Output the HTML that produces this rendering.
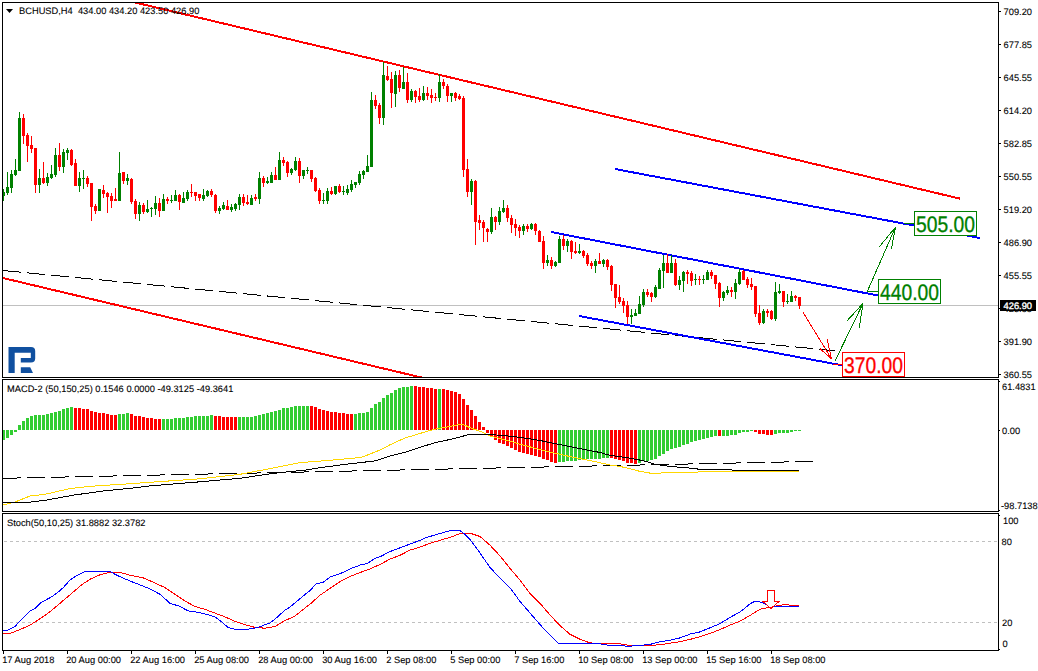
<!DOCTYPE html>
<html><head><meta charset="utf-8"><title>BCHUSD,H4</title><style>
html,body{margin:0;padding:0;background:#fff;}
body{width:1038px;height:671px;overflow:hidden;position:relative;}
svg{position:absolute;left:0;top:0;display:block;}
text{font-family:"Liberation Sans",sans-serif;text-rendering:geometricPrecision;}
</style></head><body>
<svg width="1038" height="671" viewBox="0 0 1038 671">
<rect x="0" y="0" width="1038" height="671" fill="#fff"/>
<defs><clipPath id="cm"><rect x="3" y="3" width="995" height="374"/></clipPath>
<clipPath id="cd"><rect x="3" y="380" width="995" height="131"/></clipPath>
<clipPath id="cs"><rect x="3" y="514" width="995" height="136"/></clipPath></defs>
<g clip-path="url(#cm)" shape-rendering="crispEdges">
<rect x="3" y="305" width="995" height="1" fill="#c0c0c0"/>
</g>
<g clip-path="url(#cm)" shape-rendering="crispEdges">
<line x1="130" y1="1.2794" x2="960" y2="198.637" stroke="#ff0000" stroke-width="2" />
<line x1="-17" y1="273.248" x2="440" y2="381.913" stroke="#ff0000" stroke-width="2" />
<line x1="3" y1="270.5" x2="834.5" y2="350.7" stroke="#000" stroke-width="1" stroke-dasharray="18.084 6.028"/>
<line x1="615" y1="169" x2="980" y2="238" stroke="#0000ff" stroke-width="2" />
<line x1="551" y1="232" x2="878" y2="295.5" stroke="#0000ff" stroke-width="2" />
<line x1="579" y1="316" x2="842" y2="365.3" stroke="#0000ff" stroke-width="2" />
<line x1="867.3" y1="291.5" x2="895.4" y2="227.4" stroke="#008000" stroke-width="1" />
<line x1="895.4" y1="227.4" x2="879.3" y2="246.8" stroke="#008000" stroke-width="1" />
<line x1="895.4" y1="227.4" x2="891.5" y2="248.6" stroke="#008000" stroke-width="1" />
<line x1="835.2" y1="360.6" x2="863" y2="303.4" stroke="#008000" stroke-width="1" />
<line x1="863" y1="303.4" x2="846.9" y2="321" stroke="#008000" stroke-width="1" />
<line x1="863" y1="303.4" x2="859.3" y2="327.8" stroke="#008000" stroke-width="1" />
<line x1="803" y1="312.3" x2="831.4" y2="358.7" stroke="#ff0000" stroke-width="1" />
<line x1="831.4" y1="358.7" x2="819.7" y2="348.4" stroke="#ff0000" stroke-width="1" />
<line x1="831.4" y1="358.7" x2="827.1" y2="338.9" stroke="#ff0000" stroke-width="1" />
<rect x="904" y="223" width="10" height="1" fill="#008000"/>
<rect x="868" y="291" width="10" height="1" fill="#008000"/>
<rect x="833" y="364" width="9" height="1" fill="#ff0000"/>
<rect x="914" y="211" width="62" height="24" fill="#fff" stroke="#008000" stroke-width="1" transform="translate(0.5,0.5)" shape-rendering="crispEdges"/>
<rect x="878" y="279" width="62" height="24" fill="#fff" stroke="#008000" stroke-width="1" transform="translate(0.5,0.5)"/>
<rect x="842" y="352" width="62" height="24" fill="#fff" stroke="#ff0000" stroke-width="1" transform="translate(0.5,0.5)"/>
</g>
<g clip-path="url(#cm)" shape-rendering="crispEdges">
<rect x="3" y="189" width="1" height="12" fill="#008000"/>
<rect x="2" y="192" width="3" height="4" fill="#008000"/>
<rect x="7" y="172" width="1" height="23" fill="#008000"/>
<rect x="6" y="187" width="3" height="6" fill="#008000"/>
<rect x="11" y="170" width="1" height="23" fill="#008000"/>
<rect x="10" y="174" width="3" height="14" fill="#008000"/>
<rect x="15" y="159" width="1" height="17" fill="#008000"/>
<rect x="14" y="170" width="3" height="5" fill="#008000"/>
<rect x="19" y="112" width="1" height="59" fill="#008000"/>
<rect x="18" y="118" width="3" height="53" fill="#008000"/>
<rect x="23" y="114" width="1" height="30" fill="#ff0000"/>
<rect x="22" y="118" width="3" height="18" fill="#ff0000"/>
<rect x="27" y="133" width="1" height="29" fill="#ff0000"/>
<rect x="26" y="135" width="3" height="11" fill="#ff0000"/>
<rect x="31" y="136" width="1" height="17" fill="#ff0000"/>
<rect x="30" y="145" width="3" height="4" fill="#ff0000"/>
<rect x="35" y="148" width="1" height="45" fill="#ff0000"/>
<rect x="34" y="148" width="3" height="37" fill="#ff0000"/>
<rect x="39" y="169" width="1" height="24" fill="#008000"/>
<rect x="38" y="178" width="3" height="7" fill="#008000"/>
<rect x="43" y="162" width="1" height="22" fill="#ff0000"/>
<rect x="42" y="178" width="3" height="5" fill="#ff0000"/>
<rect x="47" y="173" width="1" height="13" fill="#008000"/>
<rect x="46" y="177" width="3" height="6" fill="#008000"/>
<rect x="51" y="165" width="1" height="14" fill="#008000"/>
<rect x="50" y="174" width="3" height="4" fill="#008000"/>
<rect x="55" y="148" width="1" height="29" fill="#008000"/>
<rect x="54" y="155" width="3" height="20" fill="#008000"/>
<rect x="59" y="143" width="1" height="28" fill="#ff0000"/>
<rect x="58" y="155" width="3" height="12" fill="#ff0000"/>
<rect x="63" y="149" width="1" height="24" fill="#008000"/>
<rect x="62" y="152" width="3" height="15" fill="#008000"/>
<rect x="67" y="148" width="1" height="12" fill="#008000"/>
<rect x="66" y="150" width="3" height="3" fill="#008000"/>
<rect x="71" y="149" width="1" height="17" fill="#ff0000"/>
<rect x="70" y="150" width="3" height="15" fill="#ff0000"/>
<rect x="75" y="159" width="1" height="27" fill="#ff0000"/>
<rect x="74" y="163" width="3" height="23" fill="#ff0000"/>
<rect x="79" y="172" width="1" height="20" fill="#008000"/>
<rect x="78" y="178" width="3" height="8" fill="#008000"/>
<rect x="83" y="170" width="1" height="19" fill="#008000"/>
<rect x="82" y="178" width="3" height="1" fill="#008000"/>
<rect x="87" y="176" width="1" height="11" fill="#ff0000"/>
<rect x="86" y="178" width="3" height="6" fill="#ff0000"/>
<rect x="91" y="183" width="1" height="38" fill="#ff0000"/>
<rect x="90" y="183" width="3" height="24" fill="#ff0000"/>
<rect x="95" y="204" width="1" height="10" fill="#ff0000"/>
<rect x="94" y="206" width="3" height="5" fill="#ff0000"/>
<rect x="99" y="189" width="1" height="22" fill="#008000"/>
<rect x="98" y="189" width="3" height="22" fill="#008000"/>
<rect x="103" y="185" width="1" height="13" fill="#ff0000"/>
<rect x="102" y="190" width="3" height="4" fill="#ff0000"/>
<rect x="107" y="192" width="1" height="21" fill="#ff0000"/>
<rect x="106" y="193" width="3" height="4" fill="#ff0000"/>
<rect x="111" y="193" width="1" height="15" fill="#ff0000"/>
<rect x="110" y="196" width="3" height="5" fill="#ff0000"/>
<rect x="115" y="188" width="1" height="13" fill="#ff0000"/>
<rect x="114" y="199" width="3" height="2" fill="#ff0000"/>
<rect x="119" y="152" width="1" height="49" fill="#008000"/>
<rect x="118" y="173" width="3" height="28" fill="#008000"/>
<rect x="123" y="172" width="1" height="12" fill="#ff0000"/>
<rect x="122" y="172" width="3" height="9" fill="#ff0000"/>
<rect x="127" y="174" width="1" height="11" fill="#008000"/>
<rect x="126" y="178" width="3" height="3" fill="#008000"/>
<rect x="131" y="178" width="1" height="26" fill="#ff0000"/>
<rect x="130" y="179" width="3" height="23" fill="#ff0000"/>
<rect x="135" y="199" width="1" height="20" fill="#ff0000"/>
<rect x="134" y="201" width="3" height="13" fill="#ff0000"/>
<rect x="139" y="202" width="1" height="19" fill="#008000"/>
<rect x="138" y="205" width="3" height="9" fill="#008000"/>
<rect x="143" y="203" width="1" height="11" fill="#ff0000"/>
<rect x="142" y="205" width="3" height="7" fill="#ff0000"/>
<rect x="147" y="200" width="1" height="13" fill="#008000"/>
<rect x="146" y="209" width="3" height="3" fill="#008000"/>
<rect x="151" y="207" width="1" height="10" fill="#008000"/>
<rect x="150" y="208" width="3" height="1" fill="#008000"/>
<rect x="155" y="196" width="1" height="19" fill="#008000"/>
<rect x="154" y="203" width="3" height="6" fill="#008000"/>
<rect x="159" y="198" width="1" height="19" fill="#ff0000"/>
<rect x="158" y="203" width="3" height="8" fill="#ff0000"/>
<rect x="163" y="194" width="1" height="17" fill="#008000"/>
<rect x="162" y="199" width="3" height="12" fill="#008000"/>
<rect x="167" y="197" width="1" height="7" fill="#ff0000"/>
<rect x="166" y="199" width="3" height="2" fill="#ff0000"/>
<rect x="171" y="195" width="1" height="8" fill="#008000"/>
<rect x="170" y="200" width="3" height="1" fill="#008000"/>
<rect x="175" y="190" width="1" height="11" fill="#008000"/>
<rect x="174" y="195" width="3" height="6" fill="#008000"/>
<rect x="179" y="194" width="1" height="16" fill="#ff0000"/>
<rect x="178" y="195" width="3" height="7" fill="#ff0000"/>
<rect x="183" y="192" width="1" height="11" fill="#008000"/>
<rect x="182" y="198" width="3" height="5" fill="#008000"/>
<rect x="187" y="190" width="1" height="11" fill="#008000"/>
<rect x="186" y="192" width="3" height="7" fill="#008000"/>
<rect x="191" y="184" width="1" height="13" fill="#ff0000"/>
<rect x="190" y="192" width="3" height="1" fill="#ff0000"/>
<rect x="195" y="192" width="1" height="9" fill="#ff0000"/>
<rect x="194" y="192" width="3" height="4" fill="#ff0000"/>
<rect x="199" y="194" width="1" height="7" fill="#ff0000"/>
<rect x="198" y="194" width="3" height="4" fill="#ff0000"/>
<rect x="203" y="189" width="1" height="12" fill="#008000"/>
<rect x="202" y="195" width="3" height="4" fill="#008000"/>
<rect x="207" y="190" width="1" height="7" fill="#008000"/>
<rect x="206" y="191" width="3" height="5" fill="#008000"/>
<rect x="211" y="189" width="1" height="8" fill="#ff0000"/>
<rect x="210" y="191" width="3" height="4" fill="#ff0000"/>
<rect x="215" y="194" width="1" height="19" fill="#ff0000"/>
<rect x="214" y="195" width="3" height="16" fill="#ff0000"/>
<rect x="219" y="206" width="1" height="8" fill="#008000"/>
<rect x="218" y="208" width="3" height="3" fill="#008000"/>
<rect x="223" y="202" width="1" height="8" fill="#008000"/>
<rect x="222" y="205" width="3" height="4" fill="#008000"/>
<rect x="227" y="200" width="1" height="10" fill="#ff0000"/>
<rect x="226" y="206" width="3" height="4" fill="#ff0000"/>
<rect x="231" y="204" width="1" height="8" fill="#008000"/>
<rect x="230" y="207" width="3" height="3" fill="#008000"/>
<rect x="235" y="203" width="1" height="8" fill="#008000"/>
<rect x="234" y="204" width="3" height="5" fill="#008000"/>
<rect x="239" y="194" width="1" height="16" fill="#008000"/>
<rect x="238" y="197" width="3" height="8" fill="#008000"/>
<rect x="243" y="194" width="1" height="12" fill="#ff0000"/>
<rect x="242" y="197" width="3" height="6" fill="#ff0000"/>
<rect x="247" y="195" width="1" height="10" fill="#ff0000"/>
<rect x="246" y="202" width="3" height="2" fill="#ff0000"/>
<rect x="251" y="195" width="1" height="10" fill="#008000"/>
<rect x="250" y="198" width="3" height="7" fill="#008000"/>
<rect x="255" y="194" width="1" height="7" fill="#ff0000"/>
<rect x="254" y="197" width="3" height="2" fill="#ff0000"/>
<rect x="259" y="172" width="1" height="32" fill="#008000"/>
<rect x="258" y="178" width="3" height="21" fill="#008000"/>
<rect x="263" y="176" width="1" height="11" fill="#ff0000"/>
<rect x="262" y="178" width="3" height="5" fill="#ff0000"/>
<rect x="267" y="177" width="1" height="7" fill="#008000"/>
<rect x="266" y="181" width="3" height="2" fill="#008000"/>
<rect x="271" y="172" width="1" height="11" fill="#008000"/>
<rect x="270" y="175" width="3" height="8" fill="#008000"/>
<rect x="275" y="167" width="1" height="13" fill="#ff0000"/>
<rect x="274" y="175" width="3" height="5" fill="#ff0000"/>
<rect x="279" y="152" width="1" height="28" fill="#008000"/>
<rect x="278" y="160" width="3" height="20" fill="#008000"/>
<rect x="283" y="157" width="1" height="9" fill="#ff0000"/>
<rect x="282" y="160" width="3" height="3" fill="#ff0000"/>
<rect x="287" y="161" width="1" height="16" fill="#ff0000"/>
<rect x="286" y="162" width="3" height="11" fill="#ff0000"/>
<rect x="291" y="168" width="1" height="7" fill="#008000"/>
<rect x="290" y="169" width="3" height="4" fill="#008000"/>
<rect x="295" y="157" width="1" height="14" fill="#008000"/>
<rect x="294" y="161" width="3" height="9" fill="#008000"/>
<rect x="299" y="158" width="1" height="25" fill="#ff0000"/>
<rect x="298" y="161" width="3" height="15" fill="#ff0000"/>
<rect x="303" y="170" width="1" height="9" fill="#008000"/>
<rect x="302" y="170" width="3" height="6" fill="#008000"/>
<rect x="307" y="167" width="1" height="7" fill="#008000"/>
<rect x="306" y="170" width="3" height="1" fill="#008000"/>
<rect x="311" y="170" width="1" height="12" fill="#ff0000"/>
<rect x="310" y="170" width="3" height="9" fill="#ff0000"/>
<rect x="315" y="177" width="1" height="15" fill="#ff0000"/>
<rect x="314" y="178" width="3" height="13" fill="#ff0000"/>
<rect x="319" y="188" width="1" height="16" fill="#ff0000"/>
<rect x="318" y="190" width="3" height="11" fill="#ff0000"/>
<rect x="323" y="193" width="1" height="11" fill="#008000"/>
<rect x="322" y="200" width="3" height="1" fill="#008000"/>
<rect x="327" y="188" width="1" height="16" fill="#008000"/>
<rect x="326" y="191" width="3" height="10" fill="#008000"/>
<rect x="331" y="187" width="1" height="8" fill="#ff0000"/>
<rect x="330" y="191" width="3" height="3" fill="#ff0000"/>
<rect x="335" y="186" width="1" height="9" fill="#008000"/>
<rect x="334" y="186" width="3" height="8" fill="#008000"/>
<rect x="339" y="184" width="1" height="9" fill="#ff0000"/>
<rect x="338" y="186" width="3" height="6" fill="#ff0000"/>
<rect x="343" y="186" width="1" height="9" fill="#008000"/>
<rect x="342" y="191" width="3" height="1" fill="#008000"/>
<rect x="347" y="185" width="1" height="10" fill="#008000"/>
<rect x="346" y="189" width="3" height="4" fill="#008000"/>
<rect x="351" y="180" width="1" height="12" fill="#008000"/>
<rect x="350" y="184" width="3" height="6" fill="#008000"/>
<rect x="355" y="182" width="1" height="6" fill="#008000"/>
<rect x="354" y="182" width="3" height="3" fill="#008000"/>
<rect x="359" y="171" width="1" height="14" fill="#008000"/>
<rect x="358" y="174" width="3" height="9" fill="#008000"/>
<rect x="363" y="170" width="1" height="9" fill="#008000"/>
<rect x="362" y="171" width="3" height="4" fill="#008000"/>
<rect x="367" y="155" width="1" height="17" fill="#008000"/>
<rect x="366" y="166" width="3" height="6" fill="#008000"/>
<rect x="371" y="92" width="1" height="75" fill="#008000"/>
<rect x="370" y="100" width="3" height="67" fill="#008000"/>
<rect x="375" y="95" width="1" height="14" fill="#ff0000"/>
<rect x="374" y="100" width="3" height="6" fill="#ff0000"/>
<rect x="379" y="103" width="1" height="21" fill="#ff0000"/>
<rect x="378" y="105" width="3" height="13" fill="#ff0000"/>
<rect x="383" y="62" width="1" height="63" fill="#008000"/>
<rect x="382" y="75" width="3" height="43" fill="#008000"/>
<rect x="387" y="66" width="1" height="15" fill="#ff0000"/>
<rect x="386" y="76" width="3" height="4" fill="#ff0000"/>
<rect x="391" y="72" width="1" height="36" fill="#ff0000"/>
<rect x="390" y="79" width="3" height="14" fill="#ff0000"/>
<rect x="395" y="71" width="1" height="36" fill="#008000"/>
<rect x="394" y="75" width="3" height="19" fill="#008000"/>
<rect x="399" y="70" width="1" height="22" fill="#ff0000"/>
<rect x="398" y="75" width="3" height="13" fill="#ff0000"/>
<rect x="403" y="67" width="1" height="22" fill="#008000"/>
<rect x="402" y="82" width="3" height="7" fill="#008000"/>
<rect x="407" y="73" width="1" height="30" fill="#ff0000"/>
<rect x="406" y="82" width="3" height="18" fill="#ff0000"/>
<rect x="411" y="89" width="1" height="13" fill="#008000"/>
<rect x="410" y="91" width="3" height="9" fill="#008000"/>
<rect x="415" y="90" width="1" height="13" fill="#ff0000"/>
<rect x="414" y="91" width="3" height="6" fill="#ff0000"/>
<rect x="419" y="88" width="1" height="14" fill="#ff0000"/>
<rect x="418" y="96" width="3" height="4" fill="#ff0000"/>
<rect x="423" y="86" width="1" height="15" fill="#008000"/>
<rect x="422" y="93" width="3" height="7" fill="#008000"/>
<rect x="427" y="87" width="1" height="13" fill="#ff0000"/>
<rect x="426" y="93" width="3" height="3" fill="#ff0000"/>
<rect x="431" y="89" width="1" height="14" fill="#ff0000"/>
<rect x="430" y="95" width="3" height="3" fill="#ff0000"/>
<rect x="435" y="93" width="1" height="8" fill="#ff0000"/>
<rect x="434" y="97" width="3" height="1" fill="#ff0000"/>
<rect x="439" y="74" width="1" height="28" fill="#008000"/>
<rect x="438" y="82" width="3" height="16" fill="#008000"/>
<rect x="443" y="79" width="1" height="10" fill="#ff0000"/>
<rect x="442" y="82" width="3" height="4" fill="#ff0000"/>
<rect x="447" y="84" width="1" height="18" fill="#ff0000"/>
<rect x="446" y="86" width="3" height="10" fill="#ff0000"/>
<rect x="451" y="93" width="1" height="9" fill="#008000"/>
<rect x="450" y="93" width="3" height="3" fill="#008000"/>
<rect x="455" y="92" width="1" height="9" fill="#ff0000"/>
<rect x="454" y="93" width="3" height="5" fill="#ff0000"/>
<rect x="459" y="94" width="1" height="6" fill="#ff0000"/>
<rect x="458" y="96" width="3" height="3" fill="#ff0000"/>
<rect x="463" y="96" width="1" height="81" fill="#ff0000"/>
<rect x="462" y="98" width="3" height="72" fill="#ff0000"/>
<rect x="467" y="159" width="1" height="38" fill="#ff0000"/>
<rect x="466" y="169" width="3" height="23" fill="#ff0000"/>
<rect x="471" y="179" width="1" height="26" fill="#008000"/>
<rect x="470" y="181" width="3" height="11" fill="#008000"/>
<rect x="475" y="180" width="1" height="65" fill="#ff0000"/>
<rect x="474" y="181" width="3" height="41" fill="#ff0000"/>
<rect x="479" y="215" width="1" height="15" fill="#ff0000"/>
<rect x="478" y="220" width="3" height="3" fill="#ff0000"/>
<rect x="483" y="220" width="1" height="22" fill="#ff0000"/>
<rect x="482" y="222" width="3" height="6" fill="#ff0000"/>
<rect x="487" y="228" width="1" height="14" fill="#ff0000"/>
<rect x="486" y="229" width="3" height="3" fill="#ff0000"/>
<rect x="491" y="208" width="1" height="26" fill="#008000"/>
<rect x="490" y="217" width="3" height="15" fill="#008000"/>
<rect x="495" y="216" width="1" height="14" fill="#ff0000"/>
<rect x="494" y="217" width="3" height="5" fill="#ff0000"/>
<rect x="499" y="207" width="1" height="18" fill="#008000"/>
<rect x="498" y="211" width="3" height="11" fill="#008000"/>
<rect x="503" y="200" width="1" height="13" fill="#008000"/>
<rect x="502" y="208" width="3" height="4" fill="#008000"/>
<rect x="507" y="205" width="1" height="17" fill="#ff0000"/>
<rect x="506" y="208" width="3" height="10" fill="#ff0000"/>
<rect x="511" y="215" width="1" height="18" fill="#ff0000"/>
<rect x="510" y="218" width="3" height="7" fill="#ff0000"/>
<rect x="515" y="219" width="1" height="17" fill="#ff0000"/>
<rect x="514" y="224" width="3" height="4" fill="#ff0000"/>
<rect x="519" y="225" width="1" height="13" fill="#ff0000"/>
<rect x="518" y="227" width="3" height="4" fill="#ff0000"/>
<rect x="523" y="224" width="1" height="11" fill="#008000"/>
<rect x="522" y="226" width="3" height="5" fill="#008000"/>
<rect x="527" y="224" width="1" height="8" fill="#ff0000"/>
<rect x="526" y="226" width="3" height="3" fill="#ff0000"/>
<rect x="531" y="223" width="1" height="7" fill="#008000"/>
<rect x="530" y="224" width="3" height="5" fill="#008000"/>
<rect x="535" y="223" width="1" height="12" fill="#ff0000"/>
<rect x="534" y="224" width="3" height="7" fill="#ff0000"/>
<rect x="539" y="230" width="1" height="12" fill="#ff0000"/>
<rect x="538" y="231" width="3" height="11" fill="#ff0000"/>
<rect x="543" y="236" width="1" height="33" fill="#ff0000"/>
<rect x="542" y="241" width="3" height="22" fill="#ff0000"/>
<rect x="547" y="255" width="1" height="11" fill="#008000"/>
<rect x="546" y="260" width="3" height="3" fill="#008000"/>
<rect x="551" y="257" width="1" height="12" fill="#ff0000"/>
<rect x="550" y="260" width="3" height="6" fill="#ff0000"/>
<rect x="555" y="261" width="1" height="6" fill="#008000"/>
<rect x="554" y="262" width="3" height="4" fill="#008000"/>
<rect x="559" y="236" width="1" height="27" fill="#008000"/>
<rect x="558" y="239" width="3" height="24" fill="#008000"/>
<rect x="563" y="235" width="1" height="15" fill="#ff0000"/>
<rect x="562" y="239" width="3" height="7" fill="#ff0000"/>
<rect x="567" y="239" width="1" height="13" fill="#008000"/>
<rect x="566" y="241" width="3" height="5" fill="#008000"/>
<rect x="571" y="240" width="1" height="19" fill="#ff0000"/>
<rect x="570" y="241" width="3" height="11" fill="#ff0000"/>
<rect x="575" y="242" width="1" height="12" fill="#ff0000"/>
<rect x="574" y="251" width="3" height="2" fill="#ff0000"/>
<rect x="579" y="244" width="1" height="10" fill="#008000"/>
<rect x="578" y="251" width="3" height="2" fill="#008000"/>
<rect x="583" y="250" width="1" height="8" fill="#ff0000"/>
<rect x="582" y="251" width="3" height="5" fill="#ff0000"/>
<rect x="587" y="253" width="1" height="13" fill="#ff0000"/>
<rect x="586" y="255" width="3" height="9" fill="#ff0000"/>
<rect x="591" y="261" width="1" height="8" fill="#ff0000"/>
<rect x="590" y="263" width="3" height="3" fill="#ff0000"/>
<rect x="595" y="259" width="1" height="14" fill="#008000"/>
<rect x="594" y="261" width="3" height="5" fill="#008000"/>
<rect x="599" y="253" width="1" height="11" fill="#ff0000"/>
<rect x="598" y="261" width="3" height="3" fill="#ff0000"/>
<rect x="603" y="259" width="1" height="8" fill="#008000"/>
<rect x="602" y="260" width="3" height="4" fill="#008000"/>
<rect x="607" y="259" width="1" height="11" fill="#ff0000"/>
<rect x="606" y="260" width="3" height="7" fill="#ff0000"/>
<rect x="611" y="265" width="1" height="26" fill="#ff0000"/>
<rect x="610" y="266" width="3" height="19" fill="#ff0000"/>
<rect x="615" y="284" width="1" height="24" fill="#ff0000"/>
<rect x="614" y="284" width="3" height="14" fill="#ff0000"/>
<rect x="619" y="285" width="1" height="19" fill="#ff0000"/>
<rect x="618" y="297" width="3" height="5" fill="#ff0000"/>
<rect x="623" y="298" width="1" height="15" fill="#ff0000"/>
<rect x="622" y="301" width="3" height="5" fill="#ff0000"/>
<rect x="627" y="301" width="1" height="23" fill="#ff0000"/>
<rect x="626" y="305" width="3" height="12" fill="#ff0000"/>
<rect x="631" y="309" width="1" height="15" fill="#008000"/>
<rect x="630" y="315" width="3" height="2" fill="#008000"/>
<rect x="635" y="309" width="1" height="7" fill="#008000"/>
<rect x="634" y="313" width="3" height="3" fill="#008000"/>
<rect x="639" y="296" width="1" height="18" fill="#008000"/>
<rect x="638" y="304" width="3" height="10" fill="#008000"/>
<rect x="643" y="289" width="1" height="18" fill="#008000"/>
<rect x="642" y="292" width="3" height="13" fill="#008000"/>
<rect x="647" y="289" width="1" height="8" fill="#ff0000"/>
<rect x="646" y="292" width="3" height="3" fill="#ff0000"/>
<rect x="651" y="292" width="1" height="10" fill="#ff0000"/>
<rect x="650" y="293" width="3" height="4" fill="#ff0000"/>
<rect x="655" y="285" width="1" height="13" fill="#008000"/>
<rect x="654" y="287" width="3" height="10" fill="#008000"/>
<rect x="659" y="268" width="1" height="21" fill="#008000"/>
<rect x="658" y="270" width="3" height="19" fill="#008000"/>
<rect x="663" y="255" width="1" height="33" fill="#008000"/>
<rect x="662" y="263" width="3" height="8" fill="#008000"/>
<rect x="667" y="254" width="1" height="19" fill="#ff0000"/>
<rect x="666" y="263" width="3" height="10" fill="#ff0000"/>
<rect x="671" y="255" width="1" height="18" fill="#008000"/>
<rect x="670" y="263" width="3" height="10" fill="#008000"/>
<rect x="675" y="259" width="1" height="27" fill="#ff0000"/>
<rect x="674" y="263" width="3" height="22" fill="#ff0000"/>
<rect x="679" y="276" width="1" height="14" fill="#008000"/>
<rect x="678" y="280" width="3" height="5" fill="#008000"/>
<rect x="683" y="271" width="1" height="21" fill="#008000"/>
<rect x="682" y="272" width="3" height="9" fill="#008000"/>
<rect x="687" y="270" width="1" height="14" fill="#ff0000"/>
<rect x="686" y="272" width="3" height="2" fill="#ff0000"/>
<rect x="691" y="271" width="1" height="15" fill="#ff0000"/>
<rect x="690" y="273" width="3" height="8" fill="#ff0000"/>
<rect x="695" y="274" width="1" height="11" fill="#008000"/>
<rect x="694" y="279" width="3" height="1" fill="#008000"/>
<rect x="699" y="276" width="1" height="9" fill="#ff0000"/>
<rect x="698" y="279" width="3" height="1" fill="#ff0000"/>
<rect x="703" y="275" width="1" height="9" fill="#008000"/>
<rect x="702" y="279" width="3" height="1" fill="#008000"/>
<rect x="707" y="270" width="1" height="10" fill="#008000"/>
<rect x="706" y="272" width="3" height="8" fill="#008000"/>
<rect x="711" y="270" width="1" height="9" fill="#ff0000"/>
<rect x="710" y="272" width="3" height="4" fill="#ff0000"/>
<rect x="715" y="275" width="1" height="14" fill="#ff0000"/>
<rect x="714" y="275" width="3" height="9" fill="#ff0000"/>
<rect x="719" y="282" width="1" height="25" fill="#ff0000"/>
<rect x="718" y="283" width="3" height="15" fill="#ff0000"/>
<rect x="723" y="291" width="1" height="10" fill="#008000"/>
<rect x="722" y="292" width="3" height="6" fill="#008000"/>
<rect x="727" y="286" width="1" height="9" fill="#008000"/>
<rect x="726" y="290" width="3" height="3" fill="#008000"/>
<rect x="731" y="287" width="1" height="10" fill="#ff0000"/>
<rect x="730" y="290" width="3" height="2" fill="#ff0000"/>
<rect x="735" y="279" width="1" height="20" fill="#008000"/>
<rect x="734" y="283" width="3" height="9" fill="#008000"/>
<rect x="739" y="269" width="1" height="16" fill="#008000"/>
<rect x="738" y="272" width="3" height="12" fill="#008000"/>
<rect x="743" y="270" width="1" height="10" fill="#ff0000"/>
<rect x="742" y="271" width="3" height="9" fill="#ff0000"/>
<rect x="747" y="277" width="1" height="11" fill="#ff0000"/>
<rect x="746" y="279" width="3" height="6" fill="#ff0000"/>
<rect x="751" y="278" width="1" height="12" fill="#ff0000"/>
<rect x="750" y="284" width="3" height="3" fill="#ff0000"/>
<rect x="755" y="286" width="1" height="31" fill="#ff0000"/>
<rect x="754" y="286" width="3" height="28" fill="#ff0000"/>
<rect x="759" y="305" width="1" height="20" fill="#ff0000"/>
<rect x="758" y="313" width="3" height="10" fill="#ff0000"/>
<rect x="763" y="309" width="1" height="15" fill="#008000"/>
<rect x="762" y="311" width="3" height="12" fill="#008000"/>
<rect x="767" y="309" width="1" height="8" fill="#ff0000"/>
<rect x="766" y="311" width="3" height="2" fill="#ff0000"/>
<rect x="771" y="310" width="1" height="10" fill="#ff0000"/>
<rect x="770" y="311" width="3" height="8" fill="#ff0000"/>
<rect x="775" y="282" width="1" height="39" fill="#008000"/>
<rect x="774" y="292" width="3" height="27" fill="#008000"/>
<rect x="779" y="284" width="1" height="10" fill="#008000"/>
<rect x="778" y="291" width="3" height="2" fill="#008000"/>
<rect x="783" y="291" width="1" height="16" fill="#ff0000"/>
<rect x="782" y="291" width="3" height="11" fill="#ff0000"/>
<rect x="787" y="294" width="1" height="10" fill="#008000"/>
<rect x="786" y="301" width="3" height="1" fill="#008000"/>
<rect x="791" y="291" width="1" height="11" fill="#008000"/>
<rect x="790" y="296" width="3" height="6" fill="#008000"/>
<rect x="795" y="295" width="1" height="6" fill="#ff0000"/>
<rect x="794" y="296" width="3" height="2" fill="#ff0000"/>
<rect x="799" y="297" width="1" height="12" fill="#ff0000"/>
<rect x="798" y="297" width="3" height="9" fill="#ff0000"/>
</g>
<text x="916" y="232" font-size="22.5" fill="#008000" text-anchor="start" stroke="#008000" stroke-width="0.3" textLength="59" lengthAdjust="spacingAndGlyphs">505.00</text>
<text x="880" y="300" font-size="22.5" fill="#008000" text-anchor="start" stroke="#008000" stroke-width="0.3" textLength="59" lengthAdjust="spacingAndGlyphs">440.00</text>
<text x="844" y="373" font-size="22.5" fill="#ff0000" text-anchor="start" stroke="#ff0000" stroke-width="0.3" textLength="59" lengthAdjust="spacingAndGlyphs">370.00</text>
<g fill="#1050a0">
<path d="M8.5,347 H31 Q35.2,347 35.2,351 V358.5 Q35.2,362.5 31,362.5 H20.8 V358 H30.8 V352.8 H14.7 V373 H8.5 Z"/>
<path d="M20.8,367.2 H30.2 L33,373 H20.8 Z"/>
</g>
<path d="M6,9 H13 L9.5,13 Z" fill="#000"/>
<text transform="translate(19,14) scale(1,1.0)" x="0" y="0" font-size="9.3" fill="#000" text-anchor="start" stroke="#000" stroke-width="0.1">BCHUSD,H4&#160;&#160;434.00 434.20 423.50 426.90</text>
<g clip-path="url(#cd)" shape-rendering="crispEdges">
<rect x="2" y="430" width="3" height="10" fill="#32cd32"/>
<rect x="6" y="430" width="3" height="8" fill="#32cd32"/>
<rect x="10" y="430" width="3" height="5" fill="#32cd32"/>
<rect x="14" y="430" width="3" height="2" fill="#32cd32"/>
<rect x="18" y="425" width="3" height="5" fill="#32cd32"/>
<rect x="22" y="421" width="3" height="9" fill="#32cd32"/>
<rect x="26" y="418" width="3" height="12" fill="#32cd32"/>
<rect x="30" y="416" width="3" height="14" fill="#32cd32"/>
<rect x="34" y="415" width="3" height="15" fill="#32cd32"/>
<rect x="38" y="415" width="3" height="15" fill="#32cd32"/>
<rect x="42" y="415" width="3" height="15" fill="#32cd32"/>
<rect x="46" y="414" width="3" height="16" fill="#32cd32"/>
<rect x="50" y="413" width="3" height="17" fill="#32cd32"/>
<rect x="54" y="412" width="3" height="18" fill="#32cd32"/>
<rect x="58" y="411" width="3" height="19" fill="#32cd32"/>
<rect x="62" y="409" width="3" height="21" fill="#32cd32"/>
<rect x="66" y="408" width="3" height="22" fill="#32cd32"/>
<rect x="70" y="407" width="3" height="23" fill="#32cd32"/>
<rect x="74" y="408" width="3" height="22" fill="#ff0000"/>
<rect x="78" y="408" width="3" height="22" fill="#ff0000"/>
<rect x="82" y="409" width="3" height="21" fill="#ff0000"/>
<rect x="86" y="409" width="3" height="21" fill="#ff0000"/>
<rect x="90" y="411" width="3" height="19" fill="#ff0000"/>
<rect x="94" y="412" width="3" height="18" fill="#ff0000"/>
<rect x="98" y="413" width="3" height="17" fill="#ff0000"/>
<rect x="102" y="413" width="3" height="17" fill="#ff0000"/>
<rect x="106" y="414" width="3" height="16" fill="#ff0000"/>
<rect x="110" y="415" width="3" height="15" fill="#ff0000"/>
<rect x="114" y="415" width="3" height="15" fill="#ff0000"/>
<rect x="118" y="414" width="3" height="16" fill="#32cd32"/>
<rect x="122" y="414" width="3" height="16" fill="#32cd32"/>
<rect x="126" y="413" width="3" height="17" fill="#32cd32"/>
<rect x="130" y="414" width="3" height="16" fill="#ff0000"/>
<rect x="134" y="416" width="3" height="14" fill="#ff0000"/>
<rect x="138" y="416" width="3" height="14" fill="#ff0000"/>
<rect x="142" y="417" width="3" height="13" fill="#ff0000"/>
<rect x="146" y="418" width="3" height="12" fill="#ff0000"/>
<rect x="150" y="418" width="3" height="12" fill="#ff0000"/>
<rect x="154" y="419" width="3" height="11" fill="#ff0000"/>
<rect x="158" y="419" width="3" height="11" fill="#ff0000"/>
<rect x="162" y="419" width="3" height="11" fill="#32cd32"/>
<rect x="166" y="419" width="3" height="11" fill="#32cd32"/>
<rect x="170" y="419" width="3" height="11" fill="#32cd32"/>
<rect x="174" y="418" width="3" height="12" fill="#32cd32"/>
<rect x="178" y="418" width="3" height="12" fill="#32cd32"/>
<rect x="182" y="418" width="3" height="12" fill="#32cd32"/>
<rect x="186" y="417" width="3" height="13" fill="#32cd32"/>
<rect x="190" y="417" width="3" height="13" fill="#32cd32"/>
<rect x="194" y="416" width="3" height="14" fill="#32cd32"/>
<rect x="198" y="416" width="3" height="14" fill="#32cd32"/>
<rect x="202" y="416" width="3" height="14" fill="#32cd32"/>
<rect x="206" y="416" width="3" height="14" fill="#32cd32"/>
<rect x="210" y="415" width="3" height="15" fill="#32cd32"/>
<rect x="214" y="416" width="3" height="14" fill="#ff0000"/>
<rect x="218" y="416" width="3" height="14" fill="#ff0000"/>
<rect x="222" y="417" width="3" height="13" fill="#ff0000"/>
<rect x="226" y="417" width="3" height="13" fill="#ff0000"/>
<rect x="230" y="417" width="3" height="13" fill="#ff0000"/>
<rect x="234" y="417" width="3" height="13" fill="#ff0000"/>
<rect x="238" y="417" width="3" height="13" fill="#32cd32"/>
<rect x="242" y="417" width="3" height="13" fill="#32cd32"/>
<rect x="246" y="417" width="3" height="13" fill="#32cd32"/>
<rect x="250" y="417" width="3" height="13" fill="#32cd32"/>
<rect x="254" y="416" width="3" height="14" fill="#32cd32"/>
<rect x="258" y="415" width="3" height="15" fill="#32cd32"/>
<rect x="262" y="414" width="3" height="16" fill="#32cd32"/>
<rect x="266" y="413" width="3" height="17" fill="#32cd32"/>
<rect x="270" y="412" width="3" height="18" fill="#32cd32"/>
<rect x="274" y="411" width="3" height="19" fill="#32cd32"/>
<rect x="278" y="410" width="3" height="20" fill="#32cd32"/>
<rect x="282" y="408" width="3" height="22" fill="#32cd32"/>
<rect x="286" y="408" width="3" height="22" fill="#32cd32"/>
<rect x="290" y="407" width="3" height="23" fill="#32cd32"/>
<rect x="294" y="406" width="3" height="24" fill="#32cd32"/>
<rect x="298" y="406" width="3" height="24" fill="#32cd32"/>
<rect x="302" y="406" width="3" height="24" fill="#32cd32"/>
<rect x="306" y="406" width="3" height="24" fill="#32cd32"/>
<rect x="310" y="406" width="3" height="24" fill="#ff0000"/>
<rect x="314" y="407" width="3" height="23" fill="#ff0000"/>
<rect x="318" y="409" width="3" height="21" fill="#ff0000"/>
<rect x="322" y="410" width="3" height="20" fill="#ff0000"/>
<rect x="326" y="411" width="3" height="19" fill="#ff0000"/>
<rect x="330" y="412" width="3" height="18" fill="#ff0000"/>
<rect x="334" y="412" width="3" height="18" fill="#ff0000"/>
<rect x="338" y="413" width="3" height="17" fill="#ff0000"/>
<rect x="342" y="413" width="3" height="17" fill="#ff0000"/>
<rect x="346" y="414" width="3" height="16" fill="#ff0000"/>
<rect x="350" y="414" width="3" height="16" fill="#ff0000"/>
<rect x="354" y="414" width="3" height="16" fill="#32cd32"/>
<rect x="358" y="413" width="3" height="17" fill="#32cd32"/>
<rect x="362" y="413" width="3" height="17" fill="#32cd32"/>
<rect x="366" y="412" width="3" height="18" fill="#32cd32"/>
<rect x="370" y="408" width="3" height="22" fill="#32cd32"/>
<rect x="374" y="404" width="3" height="26" fill="#32cd32"/>
<rect x="378" y="402" width="3" height="28" fill="#32cd32"/>
<rect x="382" y="398" width="3" height="32" fill="#32cd32"/>
<rect x="386" y="395" width="3" height="35" fill="#32cd32"/>
<rect x="390" y="393" width="3" height="37" fill="#32cd32"/>
<rect x="394" y="390" width="3" height="40" fill="#32cd32"/>
<rect x="398" y="388" width="3" height="42" fill="#32cd32"/>
<rect x="402" y="387" width="3" height="43" fill="#32cd32"/>
<rect x="406" y="387" width="3" height="43" fill="#32cd32"/>
<rect x="410" y="386" width="3" height="44" fill="#32cd32"/>
<rect x="414" y="386" width="3" height="44" fill="#ff0000"/>
<rect x="418" y="387" width="3" height="43" fill="#ff0000"/>
<rect x="422" y="387" width="3" height="43" fill="#ff0000"/>
<rect x="426" y="388" width="3" height="42" fill="#ff0000"/>
<rect x="430" y="388" width="3" height="42" fill="#ff0000"/>
<rect x="434" y="389" width="3" height="41" fill="#ff0000"/>
<rect x="438" y="389" width="3" height="41" fill="#32cd32"/>
<rect x="442" y="389" width="3" height="41" fill="#ff0000"/>
<rect x="446" y="390" width="3" height="40" fill="#ff0000"/>
<rect x="450" y="391" width="3" height="39" fill="#ff0000"/>
<rect x="454" y="392" width="3" height="38" fill="#ff0000"/>
<rect x="458" y="394" width="3" height="36" fill="#ff0000"/>
<rect x="462" y="399" width="3" height="31" fill="#ff0000"/>
<rect x="466" y="405" width="3" height="25" fill="#ff0000"/>
<rect x="470" y="410" width="3" height="20" fill="#ff0000"/>
<rect x="474" y="416" width="3" height="14" fill="#ff0000"/>
<rect x="478" y="422" width="3" height="8" fill="#ff0000"/>
<rect x="482" y="427" width="3" height="3" fill="#ff0000"/>
<rect x="486" y="430" width="3" height="3" fill="#ff0000"/>
<rect x="490" y="430" width="3" height="7" fill="#ff0000"/>
<rect x="494" y="430" width="3" height="10" fill="#ff0000"/>
<rect x="498" y="430" width="3" height="13" fill="#ff0000"/>
<rect x="502" y="430" width="3" height="14" fill="#ff0000"/>
<rect x="506" y="430" width="3" height="16" fill="#ff0000"/>
<rect x="510" y="430" width="3" height="18" fill="#ff0000"/>
<rect x="514" y="430" width="3" height="20" fill="#ff0000"/>
<rect x="518" y="430" width="3" height="22" fill="#ff0000"/>
<rect x="522" y="430" width="3" height="23" fill="#ff0000"/>
<rect x="526" y="430" width="3" height="24" fill="#ff0000"/>
<rect x="530" y="430" width="3" height="25" fill="#ff0000"/>
<rect x="534" y="430" width="3" height="26" fill="#ff0000"/>
<rect x="538" y="430" width="3" height="27" fill="#ff0000"/>
<rect x="542" y="430" width="3" height="29" fill="#ff0000"/>
<rect x="546" y="430" width="3" height="30" fill="#ff0000"/>
<rect x="550" y="430" width="3" height="32" fill="#ff0000"/>
<rect x="554" y="430" width="3" height="33" fill="#ff0000"/>
<rect x="558" y="430" width="3" height="32" fill="#32cd32"/>
<rect x="562" y="430" width="3" height="32" fill="#32cd32"/>
<rect x="566" y="430" width="3" height="31" fill="#32cd32"/>
<rect x="570" y="430" width="3" height="31" fill="#32cd32"/>
<rect x="574" y="430" width="3" height="31" fill="#32cd32"/>
<rect x="578" y="430" width="3" height="30" fill="#32cd32"/>
<rect x="582" y="430" width="3" height="29" fill="#32cd32"/>
<rect x="586" y="430" width="3" height="29" fill="#32cd32"/>
<rect x="590" y="430" width="3" height="29" fill="#32cd32"/>
<rect x="594" y="430" width="3" height="29" fill="#32cd32"/>
<rect x="598" y="430" width="3" height="29" fill="#32cd32"/>
<rect x="602" y="430" width="3" height="28" fill="#32cd32"/>
<rect x="606" y="430" width="3" height="28" fill="#32cd32"/>
<rect x="610" y="430" width="3" height="28" fill="#ff0000"/>
<rect x="614" y="430" width="3" height="29" fill="#ff0000"/>
<rect x="618" y="430" width="3" height="30" fill="#ff0000"/>
<rect x="622" y="430" width="3" height="31" fill="#ff0000"/>
<rect x="626" y="430" width="3" height="33" fill="#ff0000"/>
<rect x="630" y="430" width="3" height="33" fill="#ff0000"/>
<rect x="634" y="430" width="3" height="34" fill="#ff0000"/>
<rect x="638" y="430" width="3" height="33" fill="#32cd32"/>
<rect x="642" y="430" width="3" height="31" fill="#32cd32"/>
<rect x="646" y="430" width="3" height="31" fill="#32cd32"/>
<rect x="650" y="430" width="3" height="30" fill="#32cd32"/>
<rect x="654" y="430" width="3" height="29" fill="#32cd32"/>
<rect x="658" y="430" width="3" height="26" fill="#32cd32"/>
<rect x="662" y="430" width="3" height="24" fill="#32cd32"/>
<rect x="666" y="430" width="3" height="21" fill="#32cd32"/>
<rect x="670" y="430" width="3" height="19" fill="#32cd32"/>
<rect x="674" y="430" width="3" height="18" fill="#32cd32"/>
<rect x="678" y="430" width="3" height="17" fill="#32cd32"/>
<rect x="682" y="430" width="3" height="15" fill="#32cd32"/>
<rect x="686" y="430" width="3" height="14" fill="#32cd32"/>
<rect x="690" y="430" width="3" height="12" fill="#32cd32"/>
<rect x="694" y="430" width="3" height="11" fill="#32cd32"/>
<rect x="698" y="430" width="3" height="10" fill="#32cd32"/>
<rect x="702" y="430" width="3" height="9" fill="#32cd32"/>
<rect x="706" y="430" width="3" height="8" fill="#32cd32"/>
<rect x="710" y="430" width="3" height="7" fill="#32cd32"/>
<rect x="714" y="430" width="3" height="6" fill="#32cd32"/>
<rect x="718" y="430" width="3" height="6" fill="#ff0000"/>
<rect x="722" y="430" width="3" height="6" fill="#32cd32"/>
<rect x="726" y="430" width="3" height="6" fill="#32cd32"/>
<rect x="730" y="430" width="3" height="5" fill="#32cd32"/>
<rect x="734" y="430" width="3" height="5" fill="#32cd32"/>
<rect x="738" y="430" width="3" height="3" fill="#32cd32"/>
<rect x="742" y="430" width="3" height="2" fill="#32cd32"/>
<rect x="746" y="430" width="3" height="2" fill="#32cd32"/>
<rect x="750" y="430" width="3" height="1" fill="#32cd32"/>
<rect x="754" y="430" width="3" height="2" fill="#ff0000"/>
<rect x="758" y="430" width="3" height="4" fill="#ff0000"/>
<rect x="762" y="430" width="3" height="4" fill="#ff0000"/>
<rect x="766" y="430" width="3" height="5" fill="#ff0000"/>
<rect x="770" y="430" width="3" height="5" fill="#ff0000"/>
<rect x="774" y="430" width="3" height="4" fill="#32cd32"/>
<rect x="778" y="430" width="3" height="3" fill="#32cd32"/>
<rect x="782" y="430" width="3" height="3" fill="#32cd32"/>
<rect x="786" y="430" width="3" height="3" fill="#32cd32"/>
<rect x="790" y="430" width="3" height="2" fill="#32cd32"/>
<rect x="794" y="430" width="3" height="1" fill="#32cd32"/>
<rect x="798" y="430" width="3" height="1" fill="#32cd32"/>
<line x1="3" y1="478.3" x2="813" y2="461.4" stroke="#000" stroke-width="1" stroke-dasharray="18 6"/>
<polyline points="3,505 15,502 30,496 45,494.3 70,488.6 90,486.3 120,484.4 150,482.3 200,478.8 240,474.3 270,468.6 300,462.6 330,460.3 360,457.6 365,456 380,450 390,444.8 405,438 420,433.5 430,430.4 440,428.2 450,426.5 460,424.3 465,425.2 470,427.8 480,431.2 490,436 500,438.6 510,441.2 520,444.3 550,452 574,457.5 590,460.5 610,465 620,466.4 630,468.8 640,471.4 650,473.1 660,473.1 670,472.4 697,472.4 700,471.2 758,471.6 799,471.6" fill="none" stroke="#ffd700" stroke-width="1" />
<polyline points="3,502.9 24,502.9 45,500.3 75,494.9 105,490.8 135,487.8 150,485.9 200,481.8 240,478.3 270,473.8 290,471.6 306,470 315,468.4 345,464.4 375,460.9 390,456.1 405,452.3 420,447.4 435,442.6 450,439.5 470,434.3 487,434.5 500,435.2 520,437.3 540,440.5 574,447.5 600,452.5 610,455.3 630,458.2 640,460.1 650,462.5 655,464.3 670,466.4 690,468.1 700,469.3 726,469.5 740,470.6 799,470.6" fill="none" stroke="#000" stroke-width="1" />
</g>
<text transform="translate(7,392) scale(1,1.0)" x="0" y="0" font-size="9.3" fill="#000" text-anchor="start" stroke="#000" stroke-width="0.1">MACD-2 (50,150,25) 0.1546 0.0000 -49.3125 -49.3641</text>
<g clip-path="url(#cs)" shape-rendering="crispEdges">
<line x1="4" y1="541.5" x2="998" y2="541.5" stroke="#c0c0c0" stroke-width="1" stroke-dasharray="3 3"/>
<line x1="4" y1="622.5" x2="998" y2="622.5" stroke="#c0c0c0" stroke-width="1" stroke-dasharray="3 3"/>
<polyline points="3,633.4 10,633.4 18,630.4 30,625.1 37,620.6 45,615.4 52,610.1 60,603.3 67,597.3 75,590.6 82,584.5 90,579.3 98,575.5 105,573.3 112,572.2 120,572.5 130,575.2 143,577.8 150,580.8 165,587.6 175,594.3 185,601.1 195,606.4 205,609.4 215,613.1 225,616.9 235,621.4 245,624.8 255,627.4 265,628.2 275,626.4 285,620.6 295,616.1 306,607.2 310,604.2 320,595.2 330,588.4 340,581.7 350,576.4 360,572.6 370,568.9 380,564.4 390,559.1 400,555.3 410,550.1 420,547.1 430,543.3 440,540.3 450,537.4 460,533.6 470,533.2 480,536.5 490,545.2 500,555.9 510,568.4 520,580.1 530,593.6 540,603.3 550,615 560,625.6 570,634.3 580,639.2 590,642.9 600,643.5 620,643.9 630,645.4 650,645.4 660,644.7 670,643.2 680,641.7 690,639.4 700,636.8 710,633.4 720,629.6 730,625.1 740,621.2 750,615.5 760,609.2 770,607.3 780,605.3 787,604.4 790,605.3 799,605.8" fill="none" stroke="#ff0000" stroke-width="1" />
<polyline points="3,630.4 7.5,630.4 15,626.4 22.5,618.4 30,610.9 35,608.6 41,602.6 48,598.8 52,596.6 60,590.6 64,586.8 70,580 75,576.7 82,572.8 86,571.3 110,571.3 116,574.8 124,578.5 135,583 143,586 150,589 160,594.3 170,603.3 180,606.4 188,610.9 195,611.9 205,613.9 215,616.9 222,622.1 228,627.4 235,629.4 240,630 250,628.9 258,627.4 270,622.9 275,619.1 285,610.1 290,607.1 298,600.3 306,593.7 310,590.7 316,583.9 323,582.4 330,577.1 340,573.8 350,568.9 360,565.1 367,563.6 375,558.3 380,556.8 390,551.6 400,547.8 410,544.1 420,540.3 427,537.3 435,535 445,532 450,530.7 460,530.7 465,534.5 470,539.4 480,553 490,567.5 500,578.1 510,587.8 520,601.4 530,613 540,624.6 550,635.3 558,643.1 580,643.1 590,643.2 600,643.9 610,645.4 630,646.2 640,645.4 650,644.4 660,641.7 670,640.2 680,637.9 690,634.1 700,631.9 710,627.8 720,623.6 730,617.4 740,612.1 750,603.9 755,601.2 758,601.2 765,603.9 770,605.8 773,606.8 780,606.3 786,606.8 790,606 799,606" fill="none" stroke="#0000ff" stroke-width="1" />
<path d="M767,590 H774 V601 H778.5 L770.5,608 L762.5,601 H767 Z" fill="#fff" stroke="#ff0000" stroke-width="1" stroke-linejoin="miter" transform="translate(0.5,0.5)"/>
</g>
<text transform="translate(7,526) scale(1,1.0)" x="0" y="0" font-size="9.3" fill="#000" text-anchor="start" stroke="#000" stroke-width="0.1">Stoch(50,10,25) 31.8882 32.3782</text>
<g shape-rendering="crispEdges">
<rect x="2" y="2" width="997" height="1" fill="#000"/>
<rect x="2" y="377" width="997" height="1" fill="#000"/>
<rect x="2" y="2" width="1" height="376" fill="#000"/>
<rect x="998" y="2" width="1" height="376" fill="#000"/>
<rect x="2" y="379" width="997" height="1" fill="#000"/>
<rect x="2" y="511" width="997" height="1" fill="#000"/>
<rect x="2" y="379" width="1" height="133" fill="#000"/>
<rect x="998" y="379" width="1" height="133" fill="#000"/>
<rect x="2" y="513" width="997" height="1" fill="#000"/>
<rect x="2" y="650" width="997" height="1" fill="#000"/>
<rect x="2" y="513" width="1" height="138" fill="#000"/>
<rect x="998" y="513" width="1" height="138" fill="#000"/>
</g>
<g shape-rendering="crispEdges">
<rect x="999" y="11" width="2" height="1" fill="#000"/>
<rect x="999" y="44" width="2" height="1" fill="#000"/>
<rect x="999" y="77" width="2" height="1" fill="#000"/>
<rect x="999" y="110" width="2" height="1" fill="#000"/>
<rect x="999" y="143" width="2" height="1" fill="#000"/>
<rect x="999" y="176" width="2" height="1" fill="#000"/>
<rect x="999" y="209" width="2" height="1" fill="#000"/>
<rect x="999" y="242" width="2" height="1" fill="#000"/>
<rect x="999" y="275" width="2" height="1" fill="#000"/>
<rect x="999" y="308" width="2" height="1" fill="#000"/>
<rect x="999" y="341" width="2" height="1" fill="#000"/>
<rect x="999" y="374" width="2" height="1" fill="#000"/>
</g>
<text transform="translate(1003.6,14.8) scale(1,1.0)" x="0" y="0" font-size="9.3" fill="#000" text-anchor="start" stroke="#000" stroke-width="0.1">709.20</text>
<text transform="translate(1003.6,47.8) scale(1,1.0)" x="0" y="0" font-size="9.3" fill="#000" text-anchor="start" stroke="#000" stroke-width="0.1">677.85</text>
<text transform="translate(1003.6,80.8) scale(1,1.0)" x="0" y="0" font-size="9.3" fill="#000" text-anchor="start" stroke="#000" stroke-width="0.1">645.55</text>
<text transform="translate(1003.6,113.8) scale(1,1.0)" x="0" y="0" font-size="9.3" fill="#000" text-anchor="start" stroke="#000" stroke-width="0.1">614.20</text>
<text transform="translate(1003.6,146.8) scale(1,1.0)" x="0" y="0" font-size="9.3" fill="#000" text-anchor="start" stroke="#000" stroke-width="0.1">582.85</text>
<text transform="translate(1003.6,179.8) scale(1,1.0)" x="0" y="0" font-size="9.3" fill="#000" text-anchor="start" stroke="#000" stroke-width="0.1">550.55</text>
<text transform="translate(1003.6,212.8) scale(1,1.0)" x="0" y="0" font-size="9.3" fill="#000" text-anchor="start" stroke="#000" stroke-width="0.1">519.20</text>
<text transform="translate(1003.6,245.8) scale(1,1.0)" x="0" y="0" font-size="9.3" fill="#000" text-anchor="start" stroke="#000" stroke-width="0.1">486.90</text>
<text transform="translate(1003.6,278.8) scale(1,1.0)" x="0" y="0" font-size="9.3" fill="#000" text-anchor="start" stroke="#000" stroke-width="0.1">455.55</text>
<text transform="translate(1003.6,311.8) scale(1,1.0)" x="0" y="0" font-size="9.3" fill="#000" text-anchor="start" stroke="#000" stroke-width="0.1">423.55</text>
<text transform="translate(1003.6,344.8) scale(1,1.0)" x="0" y="0" font-size="9.3" fill="#000" text-anchor="start" stroke="#000" stroke-width="0.1">391.90</text>
<text transform="translate(1003.6,377.8) scale(1,1.0)" x="0" y="0" font-size="9.3" fill="#000" text-anchor="start" stroke="#000" stroke-width="0.1">360.55</text>
<rect x="1000" y="300" width="36" height="11" fill="#000"/>
<text transform="translate(1003.6,308.8) scale(1,1.0)" x="0" y="0" font-size="9.3" fill="#fff" text-anchor="start" stroke="#fff" stroke-width="0.35">426.90</text>
<g shape-rendering="crispEdges">
<rect x="999" y="381" width="1" height="1" fill="#000"/>
<rect x="999" y="430" width="1" height="1" fill="#000"/>
<rect x="999" y="510" width="1" height="1" fill="#000"/>
<rect x="999" y="515" width="1" height="1" fill="#000"/>
<rect x="999" y="649" width="1" height="1" fill="#000"/>
</g>
<text transform="translate(1002,390.2) scale(1,1.0)" x="0" y="0" font-size="9.3" fill="#000" text-anchor="start" stroke="#000" stroke-width="0.1">61.4831</text>
<text transform="translate(1002,434) scale(1,1.0)" x="0" y="0" font-size="9.3" fill="#000" text-anchor="start" stroke="#000" stroke-width="0.1">0.00</text>
<text transform="translate(1001,508.5) scale(1,1.0)" x="0" y="0" font-size="9.3" fill="#000" text-anchor="start" stroke="#000" stroke-width="0.1">-98.7138</text>
<text transform="translate(1003,524) scale(1,1.0)" x="0" y="0" font-size="9.3" fill="#000" text-anchor="start" stroke="#000" stroke-width="0.1">100</text>
<text transform="translate(1001.5,545) scale(1,1.0)" x="0" y="0" font-size="9.3" fill="#000" text-anchor="start" stroke="#000" stroke-width="0.1">80</text>
<text transform="translate(1002,626) scale(1,1.0)" x="0" y="0" font-size="9.3" fill="#000" text-anchor="start" stroke="#000" stroke-width="0.1">20</text>
<text transform="translate(1002.5,647) scale(1,1.0)" x="0" y="0" font-size="9.3" fill="#000" text-anchor="start" stroke="#000" stroke-width="0.1">0</text>
<g shape-rendering="crispEdges">
<rect x="3" y="651" width="1" height="3" fill="#000"/>
<rect x="67" y="651" width="1" height="3" fill="#000"/>
<rect x="131" y="651" width="1" height="3" fill="#000"/>
<rect x="195" y="651" width="1" height="3" fill="#000"/>
<rect x="259" y="651" width="1" height="3" fill="#000"/>
<rect x="323" y="651" width="1" height="3" fill="#000"/>
<rect x="387" y="651" width="1" height="3" fill="#000"/>
<rect x="451" y="651" width="1" height="3" fill="#000"/>
<rect x="515" y="651" width="1" height="3" fill="#000"/>
<rect x="579" y="651" width="1" height="3" fill="#000"/>
<rect x="643" y="651" width="1" height="3" fill="#000"/>
<rect x="707" y="651" width="1" height="3" fill="#000"/>
<rect x="771" y="651" width="1" height="3" fill="#000"/>
</g>
<text transform="translate(2.2,663) scale(1,1.0)" x="0" y="0" font-size="9.3" fill="#000" text-anchor="start" stroke="#000" stroke-width="0.1">17 Aug 2018</text>
<text transform="translate(66.2,663) scale(1,1.0)" x="0" y="0" font-size="9.3" fill="#000" text-anchor="start" stroke="#000" stroke-width="0.1">20 Aug 00:00</text>
<text transform="translate(130.2,663) scale(1,1.0)" x="0" y="0" font-size="9.3" fill="#000" text-anchor="start" stroke="#000" stroke-width="0.1">22 Aug 16:00</text>
<text transform="translate(194.2,663) scale(1,1.0)" x="0" y="0" font-size="9.3" fill="#000" text-anchor="start" stroke="#000" stroke-width="0.1">25 Aug 08:00</text>
<text transform="translate(258.2,663) scale(1,1.0)" x="0" y="0" font-size="9.3" fill="#000" text-anchor="start" stroke="#000" stroke-width="0.1">28 Aug 00:00</text>
<text transform="translate(322.2,663) scale(1,1.0)" x="0" y="0" font-size="9.3" fill="#000" text-anchor="start" stroke="#000" stroke-width="0.1">30 Aug 16:00</text>
<text transform="translate(386.2,663) scale(1,1.0)" x="0" y="0" font-size="9.3" fill="#000" text-anchor="start" stroke="#000" stroke-width="0.1">2 Sep 08:00</text>
<text transform="translate(450.2,663) scale(1,1.0)" x="0" y="0" font-size="9.3" fill="#000" text-anchor="start" stroke="#000" stroke-width="0.1">5 Sep 00:00</text>
<text transform="translate(514.2,663) scale(1,1.0)" x="0" y="0" font-size="9.3" fill="#000" text-anchor="start" stroke="#000" stroke-width="0.1">7 Sep 16:00</text>
<text transform="translate(578.2,663) scale(1,1.0)" x="0" y="0" font-size="9.3" fill="#000" text-anchor="start" stroke="#000" stroke-width="0.1">10 Sep 08:00</text>
<text transform="translate(642.2,663) scale(1,1.0)" x="0" y="0" font-size="9.3" fill="#000" text-anchor="start" stroke="#000" stroke-width="0.1">13 Sep 00:00</text>
<text transform="translate(706.2,663) scale(1,1.0)" x="0" y="0" font-size="9.3" fill="#000" text-anchor="start" stroke="#000" stroke-width="0.1">15 Sep 16:00</text>
<text transform="translate(770.2,663) scale(1,1.0)" x="0" y="0" font-size="9.3" fill="#000" text-anchor="start" stroke="#000" stroke-width="0.1">18 Sep 08:00</text>
</svg></body></html>
